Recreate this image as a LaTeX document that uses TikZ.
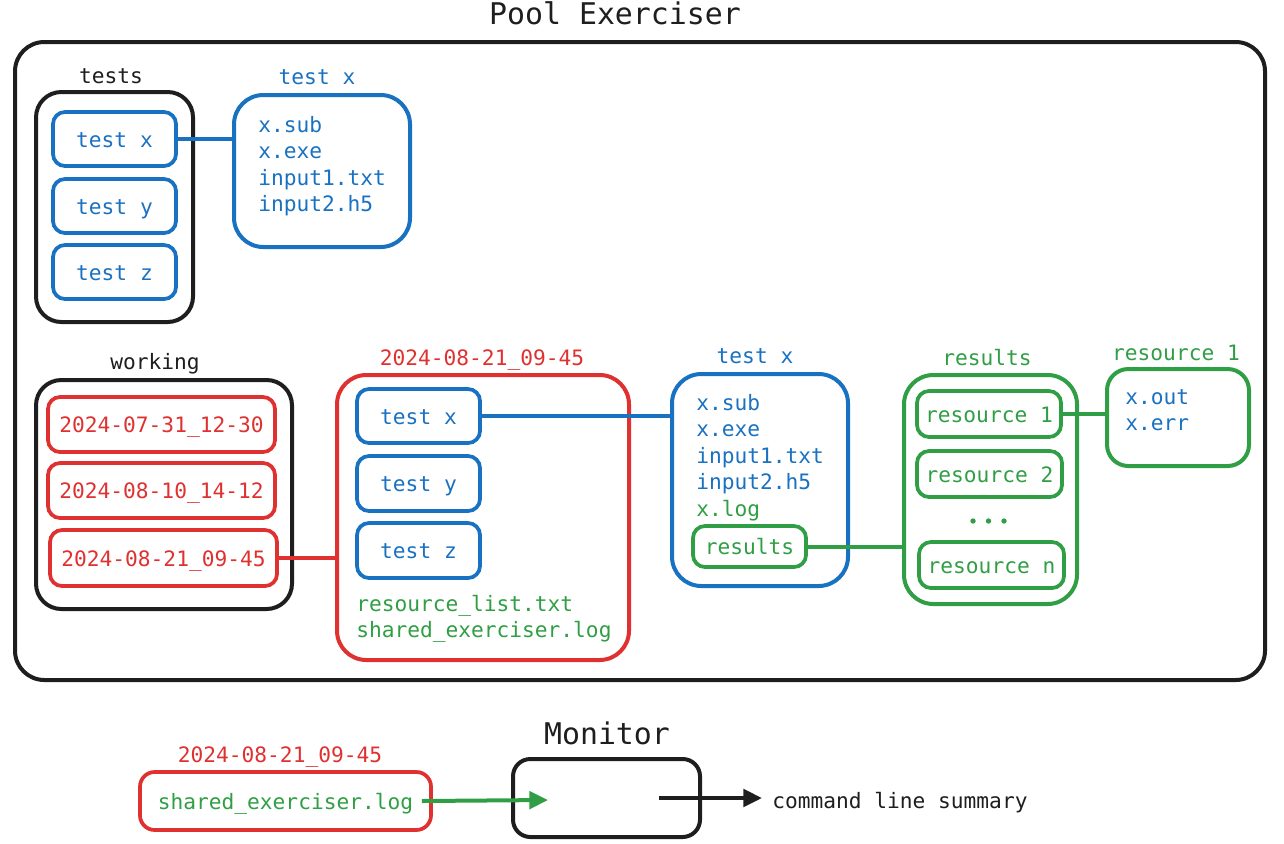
\documentclass[tikz,border=0pt]{standalone}
\usepackage{fontspec}
\setmainfont{DejaVu Sans Mono}
\usetikzlibrary{arrows.meta}
\definecolor{cblue}{HTML}{1971C2}
\definecolor{cred}{HTML}{E03131}
\definecolor{cgreen}{HTML}{2F9E44}
\definecolor{cblack}{HTML}{1E1E1E}
\tikzset{
  wh/.style 2 args={minimum width=#1*0.75pt, minimum height=#2*0.75pt},
  bigbox/.style={draw, line width=3pt, rounded corners=22pt, inner sep=0pt},
  smallbox/.style={draw, line width=2.8pt, rounded corners=9pt, inner sep=0pt, text height=2.5ex, text depth=0.3ex},
  lbl/.style={font=\fontsize{15.9}{19}\selectfont, inner sep=0pt, text height=2.5ex, text depth=0.3ex},
  bigtxt/.style={font=\fontsize{22.4}{26}\selectfont, inner sep=0pt, text height=2.4ex, text depth=0.3ex},
  line/.style={anchor=base west, inner sep=0pt, font=\fontsize{15.9}{19}\selectfont},
  conn/.style={line width=3pt},
  every node/.style={font=\fontsize{15.9}{19}\selectfont}
}
\begin{document}
\begin{tikzpicture}[x=0.75pt, y=-0.75pt]
\useasboundingbox (0,0) rectangle (1284,843);
% title and main box
\node[bigtxt, text=cblack] (title) at (615,17) {Pool Exerciser};
\node[bigbox, cblack, wh={1250}{638}, rounded corners=22pt] (pool) at (640,361) {};
% tests
\node[lbl, text=cblack] (testslbl) at (111,75) {tests};
\node[bigbox, cblack, wh={157}{230}, rounded corners=19pt] (tests) at (114.5,207) {};
\node[smallbox, cblue, wh={123}{54}] (tx) at (114.5,139) {test x};
\node[smallbox, cblue, wh={123}{54}] (ty) at (114.5,206) {test y};
\node[smallbox, cblue, wh={123}{54}] (tz) at (114.5,272) {test z};
% test x detail (top)
\node[lbl, text=cblue] (txdlbl) at (317,76) {test x};
\node[bigbox, cblue, wh={176}{152}] (txd) at (322,171) {};
\node[line, text=cblue] (txd1) at (258,132.5) {x.sub};
\node[line, text=cblue] (txd2) at (258,158.9) {x.exe};
\node[line, text=cblue] (txd3) at (258,185.3) {input1.txt};
\node[line, text=cblue] (txd4) at (258,211.7) {input2.h5};
\draw[conn, cblue] (tx.east) -- (tx.east -| txd.west);
% working
\node[lbl, text=cblack] (wlbl) at (155,361) {working};
\node[bigbox, cblack, wh={256}{229}, rounded corners=19pt] (work) at (164,494.5) {};
\node[smallbox, cred, wh={227}{55}] (d1) at (161.5,424.5) {2024-07-31\_12-30};
\node[smallbox, cred, wh={227}{55}] (d2) at (161.5,490.5) {2024-08-10\_14-12};
\node[smallbox, cred, wh={227}{56}] (d3) at (163.5,558) {2024-08-21\_09-45};
% run directory
\node[lbl, text=cred] (runlbl) at (482,357) {2024-08-21\_09-45};
\node[bigbox, cred, wh={292}{285}] (run) at (483,517.5) {};
\node[smallbox, cblue, wh={123}{54}] (rtx) at (418.5,416) {test x};
\node[smallbox, cblue, wh={123}{55}] (rty) at (418.5,483.5) {test y};
\node[smallbox, cblue, wh={123}{55}] (rtz) at (418.5,550.5) {test z};
\node[line, text=cgreen] (rl1) at (356,611.5) {resource\_list.txt};
\node[line, text=cgreen] (rl2) at (356,637.5) {shared\_exerciser.log};
\draw[conn, cred] (d3.east) -- (d3.east -| run.west);
% test x detail (run)
\node[lbl, text=cblue] (dtlbl) at (755,355) {test x};
\node[bigbox, cblue, wh={176}{212}] (dt) at (760,480) {};
\node[line, text=cblue] (dt1) at (696,410.5) {x.sub};
\node[line, text=cblue] (dt2) at (696,436.9) {x.exe};
\node[line, text=cblue] (dt3) at (696,463.3) {input1.txt};
\node[line, text=cblue] (dt4) at (696,489.7) {input2.h5};
\node[line, text=cgreen] (dt5) at (696,516.1) {x.log};
\node[smallbox, cgreen, wh={113}{41}] (dtres) at (749.5,546.5) {results};
\draw[conn, cblue] (rtx.east) -- (rtx.east -| dt.west);
% results
\node[lbl, text=cgreen] (reslbl) at (987,357) {results};
\node[bigbox, cgreen, wh={173}{229}] (res) at (990.5,489.5) {};
\node[smallbox, cgreen, wh={144}{46}] (r1) at (989,414) {resource 1};
\node[smallbox, cgreen, wh={145}{46}] (r2) at (989.5,474) {resource 2};
\node[smallbox, cgreen, wh={145}{46}] (rn) at (991.5,565) {resource n};
\fill[cgreen] (973,521) circle (2.7) (988.5,521) circle (2.7) (1004,521) circle (2.7);
\draw[conn, cgreen] (dtres.east) -- (dtres.east -| res.west);
% resource 1 detail
\node[lbl, text=cgreen] (r1lbl) at (1176,352) {resource 1};
\node[bigbox, cgreen, wh={142}{97}, rounded corners=16pt] (r1d) at (1178,417.5) {};
\node[line, text=cblue] (r1d1) at (1125,404.5) {x.out};
\node[line, text=cblue] (r1d2) at (1125,430.5) {x.err};
\draw[conn, cgreen] (r1.east) -- (r1.east -| r1d.west);
% monitor
\node[lbl, text=cred] (blbl) at (280,754) {2024-08-21\_09-45};
\node[smallbox, cred, wh={291}{58}, rounded corners=11pt] (blog) at (285.5,801) {\textcolor{cgreen}{shared\_exerciser.log}};
\node[bigtxt, text=cblack] (monlbl) at (607,737) {Monitor};
\node[bigbox, cblack, wh={187}{78}, rounded corners=13pt] (mon) at (606.5,798) {};
\coordinate (gin) at (548,800);
\node[lbl, anchor=west, text=cblack] (cls) at (772,800) {command line summary};
\draw[conn, cgreen, -{Triangle[length=14pt, width=13pt]}] ([xshift=-8.25pt]blog.east) -- (gin);
\draw[conn, cblack, -{Triangle[length=14pt, width=13pt]}, shorten >=7.5pt] ([xshift=-32pt]mon.east) -- (mon.east -| cls.west);
\end{tikzpicture}
\end{document}
